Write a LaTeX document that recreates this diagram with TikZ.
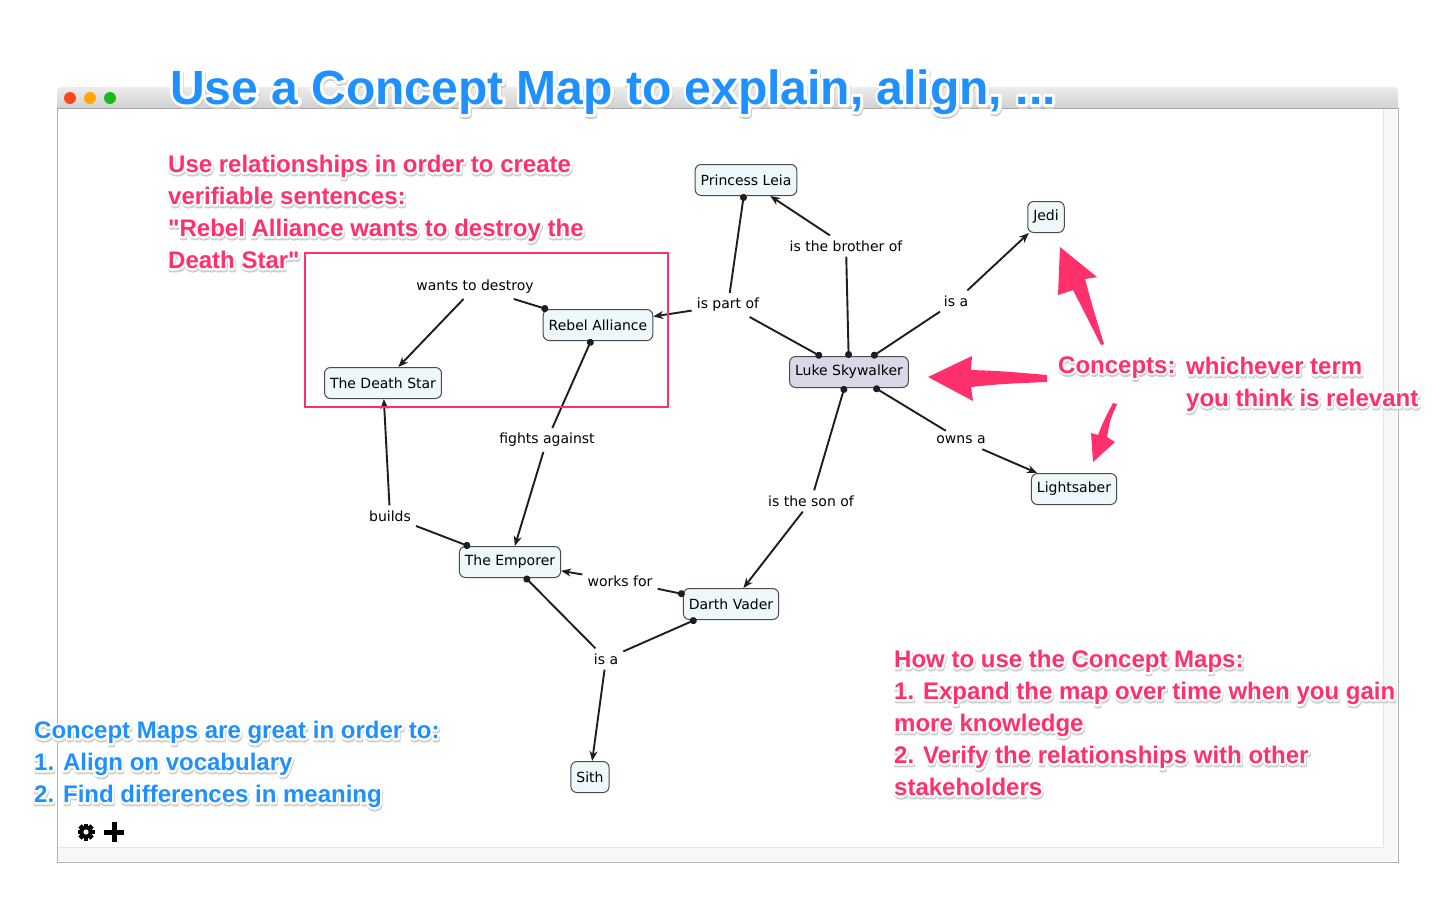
\documentclass[tikz,border=0pt]{standalone}
\usepackage{fontspec}
\setmainfont{Liberation Sans}
\newfontfamily\conceptfont{DejaVu Sans}
\usetikzlibrary{positioning,arrows.meta,calc}
\definecolor{MapPink}{RGB}{255,48,108}
\definecolor{MapBlue}{RGB}{30,144,255}
\definecolor{MapFill}{RGB}{238,248,250}
\definecolor{MapLuke}{RGB}{216,216,232}
\definecolor{MapEdge}{RGB}{30,30,30}
\definecolor{BarTop}{RGB}{236,236,236}
\definecolor{BarBottom}{RGB}{210,210,210}
% text drawn as filled and stroked outline
\newcommand\stroked[2]{\special{pdf:literal direct 1 j #1 w 2 Tr}#2\special{pdf:literal direct 0 Tr}}
\tikzset{
  map concept/.style={
    draw=MapEdge!80,
    line width=1pt,
    fill=MapFill,
    rounded corners=6pt,
    font=\conceptfont\fontsize{14}{16}\selectfont,
    minimum height=31pt,
    inner xsep=5.5pt
  },
  map phrase/.style={font=\conceptfont\fontsize{14}{16}\selectfont, inner sep=5pt},
  map from/.style={{Circle[length=7pt]}-, line width=1.9pt, MapEdge, shorten <=-2pt},
  map to/.style={-{Stealth[length=10pt,width=8pt]}, line width=1.9pt, MapEdge},
  map title/.style={font=\bfseries\fontsize{48}{56}\selectfont, inner sep=0pt},
  map note/.style={font=\bfseries\fontsize{24}{32}\selectfont, align=left, inner sep=0pt},
  map shadow/.style={text=black!20, xshift=0.6pt, yshift=-1.8pt},
  map glow/.style={text=white},
  map pointer/.style={fill=MapPink}
}

\begin{document}
\begin{tikzpicture}[x=1pt,y=-1pt]
\useasboundingbox (0,0) rectangle (1440,900);
% window
\fill[white] (57,108) rectangle (1398,862);
\fill[black!3] (1383,109) rectangle (1397,847);
\fill[black!3] (58,847) rectangle (1397,861);
\draw[black!10] (1383,109) -- (1383,847);
\draw[black!10] (58,847) -- (1383,847);
\draw[black!30] (57,108) -- (57,862) -- (1398,862) -- (1398,108);
\shade[top color=BarTop, bottom color=BarBottom] (57,108) [rounded corners=4pt] -- (57,87) -- (1398,87) [sharp corners] -- (1398,108) -- cycle;
\draw[black!35] (57,108.5) -- (1398,108.5);
\fill[red!60!orange!90!white] (70,98) circle (6);
\fill[orange!70!yellow] (90,98) circle (6);
\fill[green!70!black!90!white] (110,98) circle (6);
% toolbar icons
\fill[black] (86,832) circle (6.3);
\foreach \ang in {0,45,...,315}
  \fill[black, rotate around={\ang:(86,832)}] (83.6,823.5) rectangle (88.4,828);
\fill[white] (86,832) circle (2.6);
\fill[black] (104,829.5) rectangle (124,834.5);
\fill[black] (111.5,822) rectangle (116.5,842);

% title
\node[map title, map shadow, anchor=base west] (titleshadow) at (170,104) {\stroked{6}{Use a Concept Map to explain, align, ...}};
\node[map title, map glow, anchor=base west] (titleglow) at (170,104) {\stroked{6}{Use a Concept Map to explain, align, ...}};
\node[map title, text=MapBlue, anchor=base west] (title) at (170,104) {Use a Concept Map to explain, align, ...};

% concepts
\node[map concept] (leia) at (746,180) {Princess Leia};
\node[map concept] (jedi) at (1046,217) {Jedi};
\node[map concept] (rebels) at (598,325) {Rebel Alliance};
\node[map concept] (star) at (383,383) {The Death Star};
\node[map concept, fill=MapLuke] (luke) at (849,372) {Luke Skywalker};
\node[map concept] (saber) at (1074,489) {Lightsaber};
\node[map concept] (emperor) at (510,562) {The Emporer};
\node[map concept] (vader) at (731,604) {Darth Vader};
\node[map concept] (sith) at (590,777) {Sith};

% linking phrases
\node[map phrase] (destroy) at (475,287) {wants to destroy};
\node[map phrase] (partof) at (728,305) {is part of};
\node[map phrase] (brother) at (846,246) {is the brother of};
\node[map phrase] (isjedi) at (956,301) {is a};
\node[map phrase] (fights) at (547,440) {fights against};
\node[map phrase] (owns) at (961,440) {owns a};
\node[map phrase] (sonof) at (811,501) {is the son of};
\node[map phrase] (builds) at (390,516) {builds};
\node[map phrase] (works) at (620,581) {works for};
\node[map phrase] (issith) at (606,659) {is a};

% propositions
\draw[map from] (rebels) -- (destroy);
\draw[map to] (destroy) -- (star);
\draw[map from] (luke) -- (partof);
\draw[map from] (leia) -- (partof);
\draw[map to] (partof) -- (rebels);
\draw[map from] (luke) -- (brother);
\draw[map to] (brother) -- (leia);
\draw[map from] (luke) -- (isjedi);
\draw[map to] (isjedi) -- (jedi);
\draw[map from] (luke) -- (owns);
\draw[map to] (owns) -- (saber);
\draw[map from] (luke) -- (sonof);
\draw[map to] (sonof) -- (vader);
\draw[map from] (rebels) -- (fights);
\draw[map to] (fights) -- (emperor);
\draw[map from] (emperor) -- (builds);
\draw[map to] (builds) -- (star);
\draw[map from] (vader) -- (works);
\draw[map to] (works) -- (emperor);
\draw[map from] (emperor) -- (issith);
\draw[map from] (vader) -- (issith);
\draw[map to] (issith) -- (sith);

% highlight around the example sentence
\draw[MapPink, line width=2.5pt] (305,253) rectangle (668,407);

% notes
\foreach \look/\nm in {map shadow/shadow, map glow/glow}{
  \node[map note, \look, anchor=north west] (sentence\nm) at (168,155) {\stroked{4}{Use relationships in order to create\\verifiable sentences:\\\textquotedbl Rebel Alliance wants to destroy the\\Death Star\textquotedbl}};
  \node[map note, \look, anchor=base west] (concepts\nm) at (1058,373) {\stroked{4}{Concepts:}};
  \node[map note, \look, anchor=north west] (term\nm) at (1186,357) {\stroked{4}{whichever term\\you think is relevant}};
  \node[map note, \look, anchor=north west] (how\nm) at (894,650) {\stroked{4}{How to use the Concept Maps:\\1. Expand the map over time when you gain\\more knowledge\\2. Verify the relationships with other\\stakeholders}};
  \node[map note, \look, anchor=north west] (great\nm) at (34,721) {\stroked{4}{Concept Maps are great in order to:\\1. Align on vocabulary\\2. Find differences in meaning}};
}
\node[map note, text=MapPink, anchor=north west] (notesentence) at (168,155) {Use relationships in order to create\\verifiable sentences:\\\textquotedbl Rebel Alliance wants to destroy the\\Death Star\textquotedbl};
\node[map note, text=MapPink, anchor=base west] (noteconcepts) at (1058,373) {Concepts:};
\node[map note, text=MapPink, anchor=north west] (noteterm) at (1186,357) {whichever term\\you think is relevant};
\node[map note, text=MapPink, anchor=north west] (notehow) at (894,650) {How to use the Concept Maps:\\1. Expand the map over time when you gain\\more knowledge\\2. Verify the relationships with other\\stakeholders};
\node[map note, text=MapBlue, anchor=north west] (notegreat) at (34,721) {Concept Maps are great in order to:\\1. Align on vocabulary\\2. Find differences in meaning};

% pointers to the concepts
\fill[map pointer] (928,377) -- (972,356) -- (971,370) .. controls (1000,371) .. (1047,375) -- (1047,382) .. controls (1000,384) .. (971,387) -- (973,401) -- cycle;
\fill[map pointer] (1060,247) -- (1097,277) -- (1085,279) .. controls (1092,305) .. (1104,344) -- (1101,345) .. controls (1087,318) .. (1073,290) -- (1058,295) -- cycle;
\fill[map pointer] (1113,403) -- (1117,404) .. controls (1110,420) .. (1107,437) -- (1115,442) -- (1093,462) -- (1091,433) -- (1098,435) .. controls (1104,420) .. cycle;
\end{tikzpicture}
\end{document}
